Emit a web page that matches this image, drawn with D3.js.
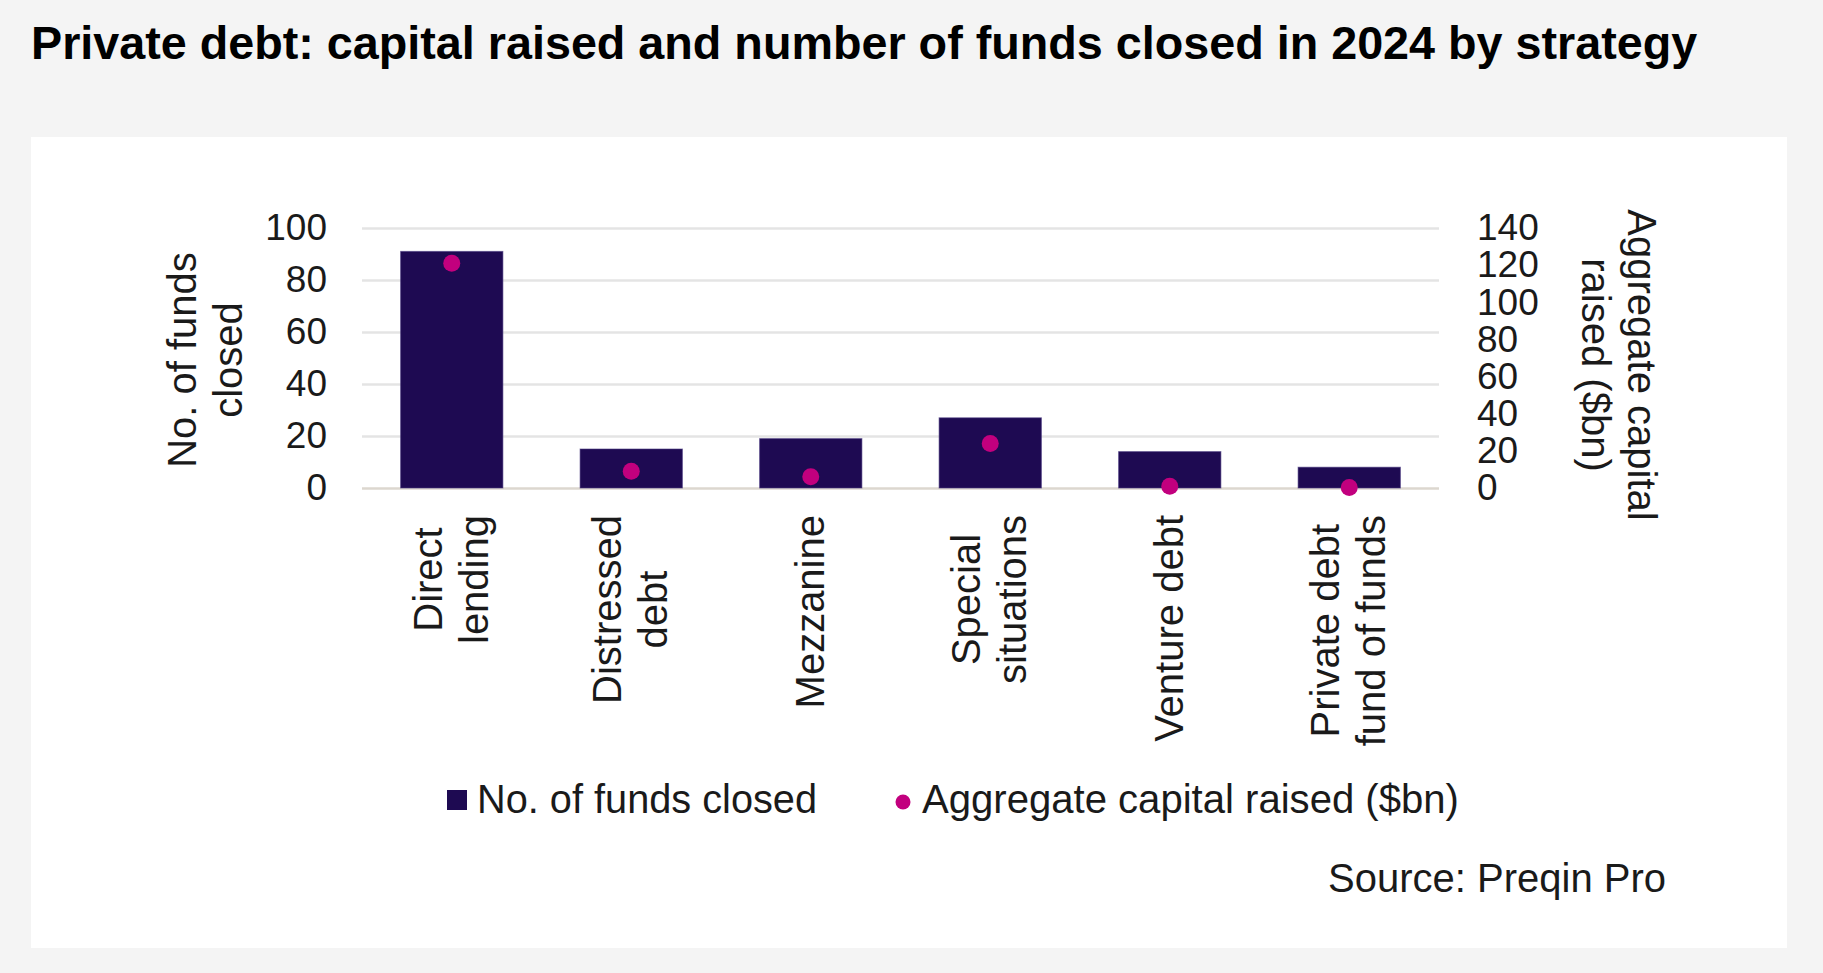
<!DOCTYPE html>
<html>
<head>
<meta charset="utf-8">
<script src="https://cdn.jsdelivr.net/npm/d3@7"></script>
<style>
  html, body { margin: 0; padding: 0; background: #f4f4f4; }
  svg { display: block; }
  text { font-family: "Liberation Sans", Arial, Helvetica, sans-serif; fill: #1a1a1a; }
</style>
</head>
<body>
<svg id="chart" width="1823" height="973"></svg>
<script>
// ---- Data ----
const categories = ["Direct lending", "Distressed debt", "Mezzanine", "Special situations", "Venture debt", "Private debt fund of funds"];
const categoryLines = [["Direct", "lending"], ["Distressed", "debt"], ["Mezzanine"], ["Special", "situations"], ["Venture debt"], ["Private debt", "fund of funds"]];
const fundsClosed = [91, 15, 19, 27, 14, 8];
const capitalRaised = [121, 9, 6, 24, 1, 0.3];
const leftTicks = [0, 20, 40, 60, 80, 100];
const rightTicks = [0, 20, 40, 60, 80, 100, 120, 140];
const titleText = "Private debt: capital raised and number of funds closed in 2024 by strategy";
const leftTitle = ["No. of funds", "closed"];
const rightTitle = ["Aggregate capital", "raised ($bn)"];
const legendLabels = ["No. of funds closed", "Aggregate capital raised ($bn)"];
const sourceText = "Source: Preqin Pro";

// ---- Layout ----
const W = 1823, H = 973;
const plot = { left: 362, right: 1439, top: 228, bottom: 488 };
const barColor = "#1e0a52";
const dotColor = "#c2007e";
const lineH = 46;

const svg = d3.select("#chart");

// background panel
svg.append("rect").attr("x", 0).attr("y", 0).attr("width", W).attr("height", H).attr("fill", "#f4f4f4");
svg.append("rect").attr("x", 31).attr("y", 137).attr("width", 1787 - 31).attr("height", 948 - 137).attr("fill", "#ffffff");

// helper to fit text width
function fitWidth(sel, target) {
  const len = sel.node().getComputedTextLength();
  const fs = parseFloat(sel.attr("font-size"));
  sel.attr("font-size", (fs * target / len).toFixed(2));
}

// title
const title = svg.append("text")
  .attr("x", 31).attr("y", 59)
  .attr("font-size", 46.7).attr("font-weight", "bold")
  .style("fill", "#000")
  .text(titleText);
fitWidth(title, 1666);

// scales
const x = d3.scaleBand().domain(categories).range([plot.left, plot.right]).paddingInner(0.43).paddingOuter(0.215);
const yL = d3.scaleLinear().domain([0, 100]).range([plot.bottom, plot.top]);
const yR = d3.scaleLinear().domain([0, 140]).range([plot.bottom, plot.top]);

// gridlines
const grid = svg.append("g").attr("transform", `translate(${plot.left},0)`)
  .call(d3.axisLeft(yL).tickValues(leftTicks).tickSize(-(plot.right - plot.left)).tickFormat(""));
grid.select(".domain").remove();
grid.selectAll(".tick line").attr("stroke", "#e4e4e4").attr("stroke-width", 2.5);
grid.selectAll(".tick").filter(d => d === 0).select("line").attr("stroke", "#dcd7cf");

// left axis labels
const axL = svg.append("g").attr("transform", "translate(327,0)")
  .call(d3.axisLeft(yL).tickValues(leftTicks).tickSize(0).tickPadding(0));
axL.select(".domain").remove();
axL.selectAll("text").attr("font-size", 37).attr("font-family", null).style("fill", "#1a1a1a");

// right axis labels
const axR = svg.append("g").attr("transform", "translate(1477,0)")
  .call(d3.axisRight(yR).tickValues(rightTicks).tickSize(0).tickPadding(0));
axR.select(".domain").remove();
axR.selectAll("text").attr("font-size", 37).attr("font-family", null).style("fill", "#1a1a1a");

// bars
svg.append("g").selectAll("rect")
  .data(categories)
  .join("rect")
  .attr("x", d => x(d))
  .attr("width", x.bandwidth())
  .attr("y", (d, i) => yL(fundsClosed[i]))
  .attr("height", (d, i) => yL(0) - yL(fundsClosed[i]))
  .attr("fill", barColor)
  .attr("stroke", "#4a3a80").attr("stroke-width", 1).attr("stroke-opacity", 0.6);

// dots
svg.append("g").selectAll("circle")
  .data(categories)
  .join("circle")
  .attr("cx", d => x(d) + x.bandwidth() / 2)
  .attr("cy", (d, i) => yR(capitalRaised[i]))
  .attr("r", 8.5)
  .attr("fill", dotColor);

// x labels (rotated, top-anchored, lines centered)
const xl = svg.append("g");
categories.forEach((c, i) => {
  const lines = categoryLines[i];
  const g = xl.append("g");
  const texts = lines.map((ln, j) => g.append("text")
    .attr("font-size", 40)
    .attr("text-anchor", "middle")
    .attr("x", 0)
    .attr("y", (j - (lines.length - 1) / 2) * lineH + 13)
    .text(ln));
  const maxW = d3.max(texts, t => t.node().getComputedTextLength());
  g.attr("transform", `translate(${x(c) + x.bandwidth() / 2},${515 + maxW / 2}) rotate(-90)`);
});

// left axis title
const lt = svg.append("g").attr("transform", "translate(196,360) rotate(-90)");
leftTitle.forEach((t, j) => lt.append("text").attr("font-size", 40).attr("text-anchor", "middle")
  .attr("x", 0).attr("y", j * lineH).text(t));

// right axis title
const rt = svg.append("g").attr("transform", "translate(1628,365) rotate(90)");
rightTitle.forEach((t, j) => rt.append("text").attr("font-size", 40).attr("text-anchor", "middle")
  .attr("x", 0).attr("y", j * lineH).text(t));

// legend
const lg = svg.append("g");
lg.append("rect").attr("x", 447).attr("y", 790).attr("width", 20).attr("height", 20).attr("fill", barColor);
const l1 = lg.append("text").attr("x", 477).attr("y", 813).attr("font-size", 40).text(legendLabels[0]);
fitWidth(l1, 340);
lg.append("circle").attr("cx", 903).attr("cy", 802).attr("r", 7.5).attr("fill", dotColor);
const l2 = lg.append("text").attr("x", 922).attr("y", 813).attr("font-size", 40).text(legendLabels[1]);
fitWidth(l2, 537);

// source
svg.append("text").attr("x", 1666).attr("y", 892).attr("text-anchor", "end").attr("font-size", 40)
  .text(sourceText);
</script>
</body>
</html>
